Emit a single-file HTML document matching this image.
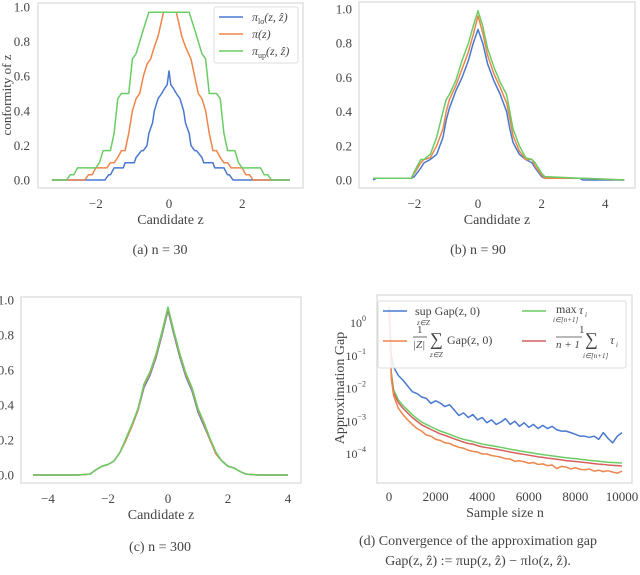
<!DOCTYPE html>
<html><head><meta charset="utf-8">
<style>
body{margin:0;background:#fff;width:640px;height:575px;overflow:hidden;font-family:"Liberation Serif",serif;color:#333}
svg{position:absolute;left:0;top:0}
text{font-family:"Liberation Serif",serif;fill:#444}
</style></head><body>
<svg id="s" width="640" height="575"></svg>
<script>
// Panel (a) n=30
const aLoZ=[-3.2,-1.75,-1.65,-1.6,-1.5,-1.45,-1.25,-1.2,-0.95,-0.9,-0.75,-0.7,-0.6,-0.55,-0.45,-0.4,-0.3,-0.2,-0.12,-0.05,0,0.05,0.12,0.2,0.3,0.4,0.45,0.55,0.6,0.7,0.75,0.9,0.95,1.2,1.25,1.45,1.5,1.6,1.65,1.75,3.3];
const aLoV=[0,0,0.03,0.03,0.07,0.07,0.07,0.1,0.1,0.13,0.17,0.17,0.2,0.27,0.33,0.4,0.47,0.5,0.53,0.55,0.63,0.55,0.53,0.5,0.47,0.4,0.33,0.27,0.2,0.17,0.17,0.13,0.1,0.1,0.07,0.07,0.07,0.03,0.03,0,0];
const aMidZ=[-3.2,-2.3,-2.2,-2.1,-2.0,-1.7,-1.6,-1.5,-1.4,-1.3,-1.2,-1.1,-1.0,-0.9,-0.8,-0.7,-0.6,-0.5,-0.4,-0.3,-0.15,0.2,0.35,0.45,0.6,0.7,0.8,0.9,1.0,1.1,1.2,1.3,1.4,1.5,1.6,1.7,2.0,2.1,2.2,2.3,3.3];
const aMidV=[0,0,0.03,0.03,0.07,0.07,0.1,0.1,0.13,0.17,0.17,0.27,0.4,0.47,0.5,0.6,0.67,0.7,0.77,0.83,0.97,0.97,0.83,0.77,0.7,0.6,0.5,0.47,0.4,0.27,0.17,0.17,0.13,0.1,0.1,0.07,0.07,0.03,0.03,0,0];
const aUpZ=[-3.2,-2.8,-2.7,-2.6,-2.5,-2.0,-1.9,-1.8,-1.6,-1.5,-1.4,-1.3,-1.1,-1.0,-0.9,-0.8,-0.7,-0.55,0.55,0.7,0.8,0.9,1.0,1.1,1.3,1.4,1.5,1.6,1.8,1.9,2.0,2.5,2.6,2.7,2.8,3.3];
const aUpV=[0,0,0.03,0.03,0.07,0.07,0.1,0.17,0.17,0.27,0.47,0.5,0.5,0.7,0.73,0.8,0.87,0.97,0.97,0.87,0.8,0.73,0.7,0.5,0.5,0.47,0.27,0.17,0.17,0.1,0.07,0.07,0.03,0.03,0,0];
// Panel (b) n=90
const bZ=[-3.3,-3.2,-2.1,-2.0,-1.8,-1.7,-1.5,-1.3,-1.1,-1.0,-0.9,-0.7,-0.5,-0.3,-0.15,0,0.15,0.3,0.5,0.7,0.9,1.0,1.1,1.3,1.5,1.7,1.8,2.0,2.1,3.2,3.3,4.6];
const bLo=[0,0.01,0.01,0.02,0.07,0.1,0.12,0.15,0.25,0.35,0.42,0.52,0.6,0.7,0.8,0.88,0.8,0.68,0.58,0.5,0.4,0.3,0.22,0.15,0.12,0.1,0.07,0.02,0.01,0.01,0,0];
const bMid=[0.01,0.01,0.01,0.04,0.1,0.12,0.13,0.2,0.3,0.4,0.47,0.55,0.65,0.75,0.85,0.96,0.86,0.73,0.62,0.54,0.45,0.36,0.26,0.17,0.12,0.12,0.08,0.03,0.01,0.01,0.01,0];
const bUp=[0.01,0.01,0.01,0.05,0.12,0.12,0.15,0.25,0.4,0.47,0.5,0.58,0.7,0.8,0.9,0.99,0.9,0.77,0.66,0.57,0.5,0.4,0.3,0.2,0.13,0.12,0.1,0.04,0.02,0.01,0.01,0];
// Panel (c) n=300
const cZ=[-4.5,-3.0,-2.6,-2.4,-2.2,-2.0,-1.8,-1.6,-1.4,-1.2,-1.0,-0.8,-0.6,-0.4,-0.2,0,0.2,0.4,0.6,0.8,1.0,1.2,1.4,1.6,1.8,2.0,2.2,2.4,2.6,3.0,4.0];
const cLo=[0,0,0.005,0.03,0.05,0.06,0.08,0.13,0.2,0.28,0.37,0.5,0.57,0.67,0.8,0.94,0.8,0.67,0.56,0.48,0.36,0.28,0.2,0.12,0.08,0.05,0.04,0.02,0.005,0,0];
const cMid=[0,0,0.005,0.03,0.05,0.06,0.08,0.13,0.2,0.28,0.37,0.51,0.58,0.68,0.81,0.95,0.81,0.68,0.57,0.49,0.37,0.29,0.2,0.12,0.08,0.05,0.04,0.02,0.005,0,0];
const cUp=[0,0,0.005,0.03,0.05,0.06,0.08,0.13,0.21,0.29,0.38,0.52,0.59,0.69,0.82,0.96,0.82,0.69,0.58,0.5,0.38,0.3,0.21,0.13,0.08,0.05,0.04,0.02,0.005,0,0];
// Panel (d) convergence
const dN=[10,100,200,400,600,800,1000,1200,1400,1600,1800,2000,2200,2400,2600,2800,3000,3200,3400,3600,3800,4000,4200,4400,4600,4800,5000,5200,5400,5600,5800,6000,6200,6400,6600,6800,7000,7200,7400,7600,7800,8000,8200,8400,8600,8800,9000,9200,9400,9600,9800,10000];
const dSup=[3,0.1,0.045,0.025,0.018,0.012,0.008,0.007,0.0055,0.005,0.0035,0.0042,0.0036,0.0028,0.0032,0.0022,0.0015,0.0018,0.0013,0.0016,0.0011,0.0013,0.0009,0.0011,0.0008,0.00095,0.0012,0.0008,0.001,0.0007,0.0009,0.00065,0.0008,0.0006,0.00075,0.0006,0.0007,0.00055,0.0005,0.0005,0.00045,0.0004,0.00035,0.00035,0.00032,0.00035,0.00028,0.00045,0.0003,0.00022,0.00035,0.00045];
const dMean=[2,0.02,0.006,0.0025,0.0016,0.0011,0.0008,0.0006,0.0005,0.00038,0.00035,0.00028,0.00026,0.00022,0.00021,0.00018,0.00016,0.00015,0.00013,0.00012,0.000115,0.0001,0.0001,0.00009,0.000085,0.00008,0.000072,0.00007,0.00006,0.000062,0.000058,0.000052,0.000055,0.000048,0.00005,0.000044,0.000046,0.000036,0.000042,0.00004,0.000035,0.000038,0.000034,0.000033,0.000035,0.00003,0.000032,0.000029,0.000031,0.000028,0.000026,0.00003];
const dMax=[2.5,0.03,0.009,0.0045,0.003,0.0022,0.0016,0.0012,0.00095,0.0008,0.00068,0.00058,0.0005,0.00045,0.0004,0.00035,0.00031,0.00028,0.00026,0.00024,0.00022,0.0002,0.00019,0.00018,0.00017,0.00016,0.00015,0.00014,0.000132,0.000125,0.000118,0.000112,0.000106,0.0001,0.000096,0.000092,0.000088,0.000084,0.00008,0.000077,0.000074,0.000072,0.000069,0.000067,0.000064,0.000062,0.00006,0.000058,0.000056,0.000055,0.000054,0.000053];
const dAvg=[2.2,0.025,0.0075,0.0037,0.0025,0.0018,0.0013,0.001,0.00078,0.00066,0.00056,0.00048,0.00041,0.00037,0.00033,0.00029,0.00026,0.00023,0.00021,0.0002,0.00018,0.000165,0.000156,0.000148,0.00014,0.000131,0.000123,0.000115,0.000108,0.000103,0.000097,0.000092,0.000087,0.000082,0.000079,0.000075,0.000072,0.000069,0.000066,0.000063,0.000061,0.000059,0.000057,0.000055,0.000053,0.000051,0.000049,0.000048,0.000046,0.000045,0.000044,0.000043];
const aXTicks=[-2,0,2], bXTicks=[-2,0,2,4], cXTicks=[-4,-2,0,2,4];
const yTicks=[0,0.2,0.4,0.6,0.8,1.0];
const dXTicks=[0,2000,4000,6000,8000,10000];
const dYTicks=[0,-1,-2,-3,-4];

const NS='http://www.w3.org/2000/svg', S=document.getElementById('s');
const C={b:'#4878d0',o:'#ee854a',g:'#6acc64',r:'#d65f5f'};
function el(t,a,p){const e=document.createElementNS(NS,t);for(const k in a)e.setAttribute(k,a[k]);(p||S).appendChild(e);return e;}
function txt(x,y,s,anchor,size){const t=el('text',{x:x,y:y,'text-anchor':anchor||'middle','font-size':size||13});t.textContent=s;return t;}
function frame(x0,y0,x1,y1,name){const r=el('rect',{x:x0,y:y0,width:x1-x0,height:y1-y0,fill:'none',stroke:'#d8d8d8','stroke-width':1.2});

}
function line(xs,ys,fx,fy,col,name){let d='';for(let i=0;i<Math.min(xs.length,ys.length);i++)d+=(i?'L':'M')+fx(xs[i]).toFixed(2)+' '+fy(ys[i]).toFixed(2);
const p=el('path',{d:d,fill:'none',stroke:col,'stroke-width':1.5,'stroke-linejoin':'round'});

}
function lin(d0,d1,p0,p1){return v=>p0+(v-d0)*(p1-p0)/(d1-d0);}
function fmt(v){return v<0?'\u2212'+(-v):String(v);}

function panel2(key,box,x0px,pxu,y0px,y1px,xt,ylabX,series){
  frame(box[0],box[1],box[2],box[3],'plot-area-'+key);
  const fx=v=>x0px+v*pxu, fy=lin(0,1,y0px,y1px);
  xt.forEach(v=>{const t=txt(fx(v),box[3]+20,fmt(v));});
  yTicks.forEach(v=>{const t=txt(ylabX,fy(v)+4.5,v.toFixed(1),'end');});
  series.forEach(s=>line(s[0],s[1],fx,fy,s[2],s[3]+'-'+key));
  const xl=txt((box[0]+box[2])/2,box[3]+36,'Candidate z','middle',14);
  
}
panel2('a',[38,3,303,188],169,36.6,180,7,aXTicks,30,[[aLoZ,aLoV,C.b,'pi-lo'],[aMidZ,aMidV,C.o,'pi'],[aUpZ,aUpV,C.g,'pi-up']]);
panel2('b',[359,2,635,188],478,31.8,180,9,bXTicks,352,[[bZ,bLo,C.b,'pi-lo'],[bZ,bMid,C.o,'pi'],[bZ,bUp,C.g,'pi-up']]);
panel2('c',[21,297,301,483],168,30,475,300,cXTicks,14,[[cZ,cLo,C.b,'pi-lo'],[cZ,cMid,C.o,'pi'],[cZ,cUp,C.g,'pi-up']]);
let yt=txt(0,0,'conformity of z','middle',13);yt.setAttribute('transform','translate(11,95) rotate(-90)');

const lg=el('g',{});

el('rect',{x:214,y:7,width:84,height:56,fill:'#fff',stroke:'#ddd','stroke-width':1,rx:2},lg);
[['π','lo','(z, ẑ)',C.b,20],['π','','(z)',C.o,37],['π','up','(z, ẑ)',C.g,54]].forEach(e=>{
  el('line',{x1:219,y1:e[4]-3,x2:243,y2:e[4]-3,stroke:e[3],'stroke-width':1.5},lg);
  const t=el('text',{x:252,y:e[4]+1,'font-size':12,'font-style':'italic'},lg);
  t.textContent=e[0];
  if(e[1]){const s=el('tspan',{'font-size':8,dy:3,'font-style':'normal'},t);s.textContent=e[1];const r=el('tspan',{dy:-3},t);r.textContent=e[2];}
  else{const r=el('tspan',{},t);r.textContent=e[2];}
});
frame(377,295,632,483,'plot-area-d');
const fxD=lin(0,10000,389,622), fyD=v=>454-(Math.log10(v)+4)*32.75;
dXTicks.forEach(v=>{const t=txt(fxD(v),501,String(v));});
dYTicks.forEach(e=>{const t=el('text',{x:366,y:fyD(Math.pow(10,e))+4,'text-anchor':'end','font-size':12});t.textContent='10';
 const s=el('tspan',{dy:-6,'font-size':8},t);s.textContent=e===0?'0':'\u2212'+(-e);
 });
line(dN,dSup,fxD,fyD,C.b,'series-sup-gap');
line(dN,dMax,fxD,fyD,C.g,'series-max-tau');
line(dN,dAvg,fxD,fyD,C.r,'series-mean-tau');
line(dN,dMean,fxD,fyD,C.o,'series-mean-gap');
let yd=txt(0,0,'Approximation Gap','middle',14);yd.setAttribute('transform','translate(344,388) rotate(-90)');

let xd=txt(505,517,'Sample size n','middle',14);

const lgd=el('g',{});

el('rect',{x:378,y:301,width:248,height:67,fill:'#fff','fill-opacity':0.85,stroke:'#ddd','stroke-width':1,rx:2},lgd);
el('line',{x1:383,y1:311,x2:407,y2:311,stroke:C.b,'stroke-width':1.5},lgd);
el('line',{x1:383,y1:341,x2:407,y2:341,stroke:C.o,'stroke-width':1.5},lgd);
el('line',{x1:522,y1:311,x2:546,y2:311,stroke:C.g,'stroke-width':1.5},lgd);
el('line',{x1:522,y1:341,x2:546,y2:341,stroke:C.r,'stroke-width':1.5},lgd);
function lt(x,y,s,sz,it){const t=el('text',{x:x,y:y,'font-size':sz,'font-style':it?'italic':'normal'},lgd);t.textContent=s;return t;}
lt(415,315,'sup Gap(z, 0)',12);lt(417,325,'z∈Z',7,1);
lt(417,333,'1',11);el('line',{x1:413,y1:337,x2:427,y2:337,stroke:'#444','stroke-width':0.8},lgd);lt(413,348,'|Z|',11,1);
lt(430,345,'∑',18);lt(430,357,'z∈Z',7,1);lt(447,344,'Gap(z, 0)',12);
lt(556,313,'max',12);lt(553,322,'i∈[n+1]',7,1);lt(579,314,'τ',12,1);lt(585,317,'i',7,1);
lt(579,333,'1',11);el('line',{x1:556,y1:337,x2:582,y2:337,stroke:'#444','stroke-width':0.8},lgd);lt(556,348,'n + 1',11,1);
lt(585,345,'∑',18);lt(583,358,'i∈[n+1]',7,1);lt(610,344,'τ',12,1);lt(616,347,'i',7,1);
[['(a)  n = 30',160,254],['(b)  n = 90',478,254],['(c)  n = 300',160,551]].forEach(c=>{const t=txt(c[1],c[2],c[0],'middle',14);
});
let c1=txt(478,545,'(d)  Convergence of the approximation gap','middle',14);

let c2=txt(478,565,'Gap(z, ẑ) := πup(z, ẑ) − πlo(z, ẑ).','middle',14);

</script>
</body></html>
